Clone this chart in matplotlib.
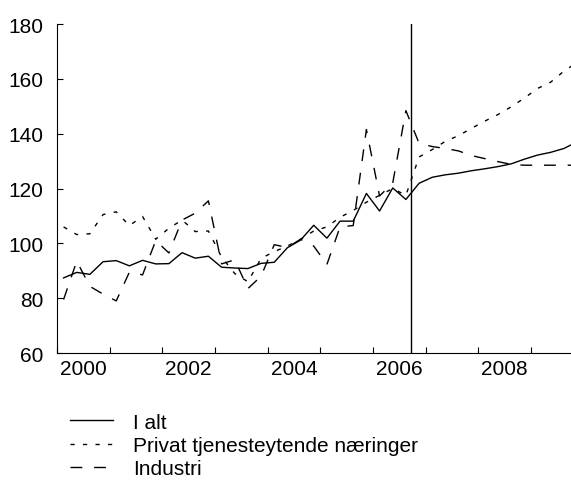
import numpy as np
import matplotlib
matplotlib.use("Agg")
from matplotlib import pyplot as plt

plt.rcParams['font.family'] = ['Liberation Sans', 'DejaVu Sans']

# quarterly series, 2000Q1 - 2009Q4
start_year = 2000
i_alt = [87.4, 89.4, 88.7, 93.3, 93.7, 91.8, 93.8, 92.5, 92.6, 96.6,
         94.6, 95.3, 91.3, 91.0, 90.8, 92.7, 93.1, 98.4, 101.2, 106.6,
         101.9, 108.1, 108.1, 118.2, 111.8, 120.2, 116.0, 121.9, 124.1, 125.0,
         125.6, 126.5, 127.2, 128.0, 129.0, 130.7, 132.2, 133.2, 134.6, 137.0]
privat = [106.0, 103.2, 103.5, 110.5, 111.5, 106.5, 109.8, 101.5, 105.5, 108.5,
          104.3, 104.5, 95.0, 89.0, 86.0, 94.5, 97.0, 99.0, 101.5, 104.5,
          106.0, 109.5, 112.0, 115.0, 117.5, 120.0, 117.5, 131.5, 134.2, 137.2,
          139.3, 142.0, 144.6, 147.0, 149.8, 153.0, 156.5, 158.8, 162.8, 166.0]
industri = [79.5, 93.5, 84.3, 81.5, 79.0, 89.5, 88.5, 101.0, 96.5, 108.5,
            111.0, 115.5, 92.5, 94.0, 83.5, 88.0, 99.5, 98.5, 101.5, 99.0,
            92.3, 106.0, 106.5, 141.5, 117.3, 122.0, 148.4, 136.5, 135.3, 134.6,
            133.7, 132.0, 130.9, 129.8, 128.8, 128.5, 128.5, 128.5, 128.5, 128.5]
labels = ["I alt", "Privat tjenesteytende næringer", "Industri"]
year_labels = ["2000", "2002", "2004", "2006", "2008"]
forecast_start = 2006.72

x = start_year + (np.arange(len(i_alt)) + 0.5) / 4

fig = plt.figure(figsize=(5.71, 4.81), dpi=100)
ax = fig.add_axes([0.0998, 0.264, 0.9002, 0.684])

ax.plot(x, i_alt, color="black", lw=1.0, label=labels[0])
ax.plot(x, privat, color="black", lw=1.0, linestyle=(0, (3, 6)), label=labels[1])
ax.plot(x, industri, color="black", lw=1.0, linestyle=(0, (8.5, 8.5)), label=labels[2])
ax.axvline(forecast_start, color="black", lw=1.0)

ax.set_xlim(2000, 2009.76)
ax.set_ylim(60, 180)
ax.set_yticks(range(60, 181, 20))

# year ticks without labels, labels in the middle of every other year
ax.set_xticks(range(2000, 2010))
ax.set_xticklabels([])
ax.set_xticks([int(y) + 0.5 for y in year_labels], minor=True)
ax.set_xticklabels(year_labels, minor=True)

ax.tick_params(axis="x", which="major", direction="in", length=4, width=0.8)
ax.tick_params(axis="x", which="minor", length=0, pad=4.5, labelsize=15)
ax.tick_params(axis="y", direction="in", length=4, width=0.8, pad=10, labelsize=15)

for side in ["top", "right"]:
    ax.spines[side].set_visible(False)
for side in ["left", "bottom"]:
    ax.spines[side].set_linewidth(0.8)

fig.legend(loc="upper left", bbox_to_anchor=(0.123, 0.140), frameon=False,
           fontsize=15, handlelength=2.07, handletextpad=0.96,
           labelspacing=0.2, borderpad=0, borderaxespad=0)

plt.savefig("out.png", dpi=100)
